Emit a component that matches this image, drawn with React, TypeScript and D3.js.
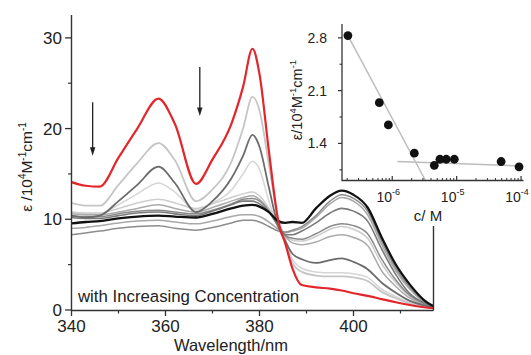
import React from "react";
import * as d3 from "d3";

const WL = [340, 343, 346, 350, 354, 358.5, 362, 366.5, 370, 374, 376.5, 378.5, 380, 382, 384, 385.5, 387, 389, 392, 395, 397.5, 400, 403, 406, 409, 412, 415, 417];

const sRed = [14.1, 13.7, 13.6, 16.8, 20.0, 23.3, 20.5, 13.9, 16.6, 20.5, 24.6, 28.8, 26.0, 17.5, 9.8, 7.3, 4.6, 2.75, 2.5, 2.35, 2.15, 1.85, 1.55, 1.2, 0.85, 0.55, 0.3, 0.2];
const s1 = [11.8, 11.5, 11.5, 13.8, 16.2, 18.4, 16.5, 12.0, 13.3, 16.3, 20.0, 23.5, 22.0, 16.0, 10.0, 7.8, 5.2, 4.2, 3.8, 3.7, 3.7, 3.6, 3.2, 2.0, 1.3, 0.7, 0.4, 0.3];
const s2 = [10.4, 10.2, 10.4, 12.0, 13.8, 15.8, 14.0, 10.8, 12.0, 14.5, 17.0, 19.3, 18.0, 13.5, 9.2, 7.6, 6.2, 5.6, 5.2, 5.5, 5.7, 5.3, 4.5, 3.0, 1.9, 1.0, 0.5, 0.3];
const s3 = [10.8, 10.6, 10.6, 11.6, 12.8, 14.0, 13.0, 11.0, 11.8, 13.2, 15.0, 16.4, 15.5, 12.0, 9.0, 7.5, 5.6, 4.6, 4.2, 4.1, 4.1, 4.0, 3.6, 2.3, 1.5, 0.8, 0.4, 0.3];
const s4 = [10.8, 10.7, 10.7, 11.2, 11.8, 12.2, 11.8, 11.2, 11.7, 12.4, 12.8, 13.0, 12.6, 11.2, 9.3, 8.2, 7.7, 7.6, 8.1, 8.9, 9.2, 8.9, 7.9, 5.1, 3.0, 1.5, 0.7, 0.4];
const s5 = [10.6, 10.5, 10.5, 10.8, 11.2, 11.6, 11.2, 10.8, 11.3, 12.0, 12.4, 12.6, 12.2, 11.0, 9.2, 8.1, 7.4, 7.2, 7.5, 8.1, 8.3, 8.0, 7.1, 4.3, 2.6, 1.3, 0.6, 0.4];
const s6 = [10.4, 10.3, 10.3, 10.6, 10.9, 11.0, 10.8, 10.6, 11.0, 11.7, 12.2, 12.3, 12.0, 10.9, 9.2, 8.2, 7.9, 7.8, 8.4, 9.2, 9.5, 9.3, 8.4, 5.6, 3.3, 1.6, 0.7, 0.4];
const s7 = [10.2, 10.1, 10.1, 10.4, 10.7, 10.8, 10.6, 10.4, 10.9, 11.6, 12.0, 12.0, 11.7, 10.8, 9.3, 8.3, 8.3, 8.7, 9.6, 10.7, 11.2, 10.9, 9.8, 6.7, 3.9, 1.8, 0.8, 0.5];
const s9 = [9.0, 9.1, 9.3, 9.6, 9.8, 9.9, 9.7, 9.5, 9.8, 10.3, 10.5, 10.5, 10.3, 9.7, 8.9, 8.5, 8.7, 9.0, 10.2, 11.7, 12.4, 12.0, 10.5, 7.2, 4.3, 2.3, 0.9, 0.4];
const s10 = [8.3, 8.5, 8.7, 9.0, 9.2, 9.3, 9.0, 8.8, 9.1, 9.6, 9.9, 9.9, 9.7, 9.2, 8.7, 8.6, 8.8, 9.2, 10.4, 12.0, 12.7, 12.3, 10.9, 7.6, 4.6, 2.5, 1.0, 0.4];
const sBlack = [9.55, 9.7, 9.8, 10.1, 10.3, 10.4, 10.3, 10.2, 10.6, 11.2, 11.5, 11.6, 11.4, 10.8, 9.8, 9.6, 9.7, 9.6, 11.2, 12.6, 13.15, 12.7, 11.3, 8.0, 5.0, 2.8, 1.1, 0.4];

const seriesList = [
  { v: s3, color: "#d6d6d6", w: 1.5 },
  { v: s4, color: "#cdcdcd", w: 1.5 },
  { v: s1, color: "#c6c6c6", w: 1.8 },
  { v: s9, color: "#a8a8a8", w: 1.5 },
  { v: s5, color: "#ababab", w: 1.5 },
  { v: s10, color: "#8c8c8c", w: 1.5 },
  { v: s6, color: "#8a8a8a", w: 1.5 },
  { v: s7, color: "#7a7a7a", w: 1.6 },
  { v: s2, color: "#6c6c6c", w: 1.8 },
  { v: sBlack, color: "#111111", w: 2.3 },
  { v: sRed, color: "#e3262b", w: 2.2 },
];

const xTicks = [340, 360, 380, 400];
const xMinor = [350, 370, 390, 410];
const yTicks = [0, 10, 20, 30];
const yMinor = [5, 15, 25];

// arrows (wavelength, from, to)
const arrows = [
  { w: 344.5, from: 22.9, to: 17.0 },
  { w: 367.3, from: 26.8, to: 21.4 },
];

// inset data
const conc = [2.05e-7, 6.3e-7, 8.7e-7, 2.2e-6, 4.5e-6, 5.5e-6, 6.9e-6, 9.2e-6, 4.9e-5, 9.3e-5];
const epsInset = [2.83, 1.94, 1.645, 1.27, 1.11, 1.19, 1.19, 1.19, 1.16, 1.09];
const fit1C = [2.05e-7, 3.25e-6];
const fit1E = [2.83, 0.915];
const fit2C = [1.2e-6, 1.07e-4];
const fit2E = [1.16, 1.10];
const insetYTicks = [1.4, 2.1, 2.8];
const insetYMinor = [1.05, 1.75, 2.45];
const insetXTicks = [1e-6, 1e-5, 1e-4];
const insetXLabels = ["-6", "-5", "-4"];

const FONT = "'Liberation Sans', Arial, Helvetica, sans-serif";

export default function App() {
  const x = d3.scaleLinear().domain([340, 417]).range([71.5, 433.4]);
  const y = d3.scaleLinear().domain([0, 32.5]).range([310, 15.2]);
  const line = d3
    .line<number>()
    .x((_, i) => x(WL[i]))
    .y((d) => y(d))
    .curve(d3.curveMonotoneX);

  const ix = d3.scaleLog().domain([Math.pow(10, -6.78), Math.pow(10, -3.97)]).range([342, 523]);
  const iy = d3.scaleLinear().domain([0.915, 2.97]).range([180, 25]);

  const axisColor = "#333";
  const minorInset = [-7, -6, -5]
    .flatMap((dec) => [2, 3, 4, 5, 6, 7, 8, 9].map((m) => m * Math.pow(10, dec)))
    .filter((c) => ix(c) > 343 && ix(c) < 523);

  return (
    <svg
      width={531}
      height={355}
      style={{ position: "absolute", left: 0, top: 0, background: "#fff" }}
      fontFamily={FONT}
    >
      <rect x={0} y={0} width={531} height={355} fill="#fff" />
      {seriesList.map((s, i) => (
        <path key={i} d={line(s.v) || ""} fill="none" stroke={s.color} strokeWidth={s.w} strokeLinejoin="round" />
      ))}

      <line x1={71.5} x2={71.5} y1={15} y2={310.5} stroke={axisColor} strokeWidth={1.4} />
      <line x1={71} x2={433.5} y1={310.5} y2={310.5} stroke={axisColor} strokeWidth={1.4} />
      <line x1={433.5} x2={433.5} y1={226} y2={310.5} stroke={axisColor} strokeWidth={1.4} />
      {yTicks.map((t) => (
        <g key={"yt" + t}>
          <line x1={65} x2={71.5} y1={y(t)} y2={y(t)} stroke={axisColor} strokeWidth={1.3} />
          <text x={62} y={y(t)} dy="0.36em" textAnchor="end" fontSize={17} fill="#222">
            {t}
          </text>
        </g>
      ))}
      {yMinor.map((t) => (
        <line key={"ym" + t} x1={68} x2={71.5} y1={y(t)} y2={y(t)} stroke={axisColor} strokeWidth={1.2} />
      ))}
      {xTicks.map((t) => (
        <g key={"xt" + t}>
          <line x1={x(t)} x2={x(t)} y1={310.5} y2={316} stroke={axisColor} strokeWidth={1.3} />
          <text x={x(t)} y={332} textAnchor="middle" fontSize={17} fill="#222">
            {t}
          </text>
        </g>
      ))}
      {xMinor.map((t) => (
        <line key={"xm" + t} x1={x(t)} x2={x(t)} y1={310.5} y2={313.5} stroke={axisColor} strokeWidth={1.2} />
      ))}
      <text x={231} y={351} textAnchor="middle" fontSize={16.5} fill="#222">
        Wavelength/nm
      </text>
      <text transform="translate(32,167) rotate(-90)" textAnchor="middle" fontSize={15.5} fill="#222">
        ε /10<tspan fontSize={10} dy={-6}>4</tspan>
        <tspan dy={6}>M</tspan>
        <tspan fontSize={10} dy={-6}>-1</tspan>
        <tspan dy={6}>cm</tspan>
        <tspan fontSize={10} dy={-6}>-1</tspan>
      </text>
      <text x={78} y={302} fontSize={16.8} fill="#222">
        with Increasing Concentration
      </text>

      {arrows.map((a, i) => {
        const ax = x(a.w);
        const y1 = y(a.from);
        const y2 = y(a.to);
        return (
          <g key={"ar" + i}>
            <line x1={ax} x2={ax} y1={y1} y2={y2 - 7} stroke="#222" strokeWidth={1.3} />
            <path d={`M${ax - 2.7},${y2 - 8.5} L${ax + 2.7},${y2 - 8.5} L${ax},${y2} Z`} fill="#222" />
          </g>
        );
      })}

      {/* inset */}
      <line x1={ix(fit1C[0])} y1={iy(fit1E[0])} x2={ix(fit1C[1])} y2={iy(fit1E[1])} stroke="#bdbdbd" strokeWidth={1.5} />
      <line x1={ix(fit2C[0])} y1={iy(fit2E[0])} x2={ix(fit2C[1])} y2={iy(fit2E[1])} stroke="#bdbdbd" strokeWidth={1.5} />
      <line x1={342} x2={342} y1={24} y2={180.5} stroke={axisColor} strokeWidth={1.3} />
      <line x1={341.5} x2={523.5} y1={180.5} y2={180.5} stroke={axisColor} strokeWidth={1.3} />
      {insetYTicks.map((t) => (
        <g key={"iyt" + t}>
          <line x1={338} x2={342} y1={iy(t)} y2={iy(t)} stroke={axisColor} strokeWidth={1.2} />
          <text x={327} y={iy(t)} dy="0.36em" textAnchor="end" fontSize={14} fill="#222">
            {t.toFixed(1)}
          </text>
        </g>
      ))}
      {insetYMinor.map((t) => (
        <line key={"iym" + t} x1={339.5} x2={342} y1={iy(t)} y2={iy(t)} stroke={axisColor} strokeWidth={1.1} />
      ))}
      {insetXTicks.map((t, i) => (
        <g key={"ixt" + i}>
          <line x1={ix(t)} x2={ix(t)} y1={180.5} y2={176} stroke={axisColor} strokeWidth={1.2} />
          <text x={ix(t) - 4} y={202} textAnchor="middle" fontSize={14} fill="#222">
            10<tspan fontSize={9} dy={-7}>{insetXLabels[i]}</tspan>
          </text>
        </g>
      ))}
      {minorInset.map((c, i) => (
        <line key={"ixm" + i} x1={ix(c)} x2={ix(c)} y1={180.5} y2={178} stroke={axisColor} strokeWidth={1} />
      ))}
      <text x={428} y={221} textAnchor="middle" fontSize={15} fill="#222">
        c/ M
      </text>
      <text transform="translate(302,100) rotate(-90)" textAnchor="middle" fontSize={14.5} fill="#222">
        ε/10<tspan fontSize={9.5} dy={-6}>4</tspan>
        <tspan dy={6}>M</tspan>
        <tspan fontSize={9.5} dy={-6}>-1</tspan>
        <tspan dy={6}>cm</tspan>
        <tspan fontSize={9.5} dy={-6}>-1</tspan>
      </text>
      {conc.map((c, i) => (
        <circle key={"pt" + i} cx={ix(c)} cy={iy(epsInset[i])} r={4.4} fill="#111" />
      ))}
    </svg>
  );
}
